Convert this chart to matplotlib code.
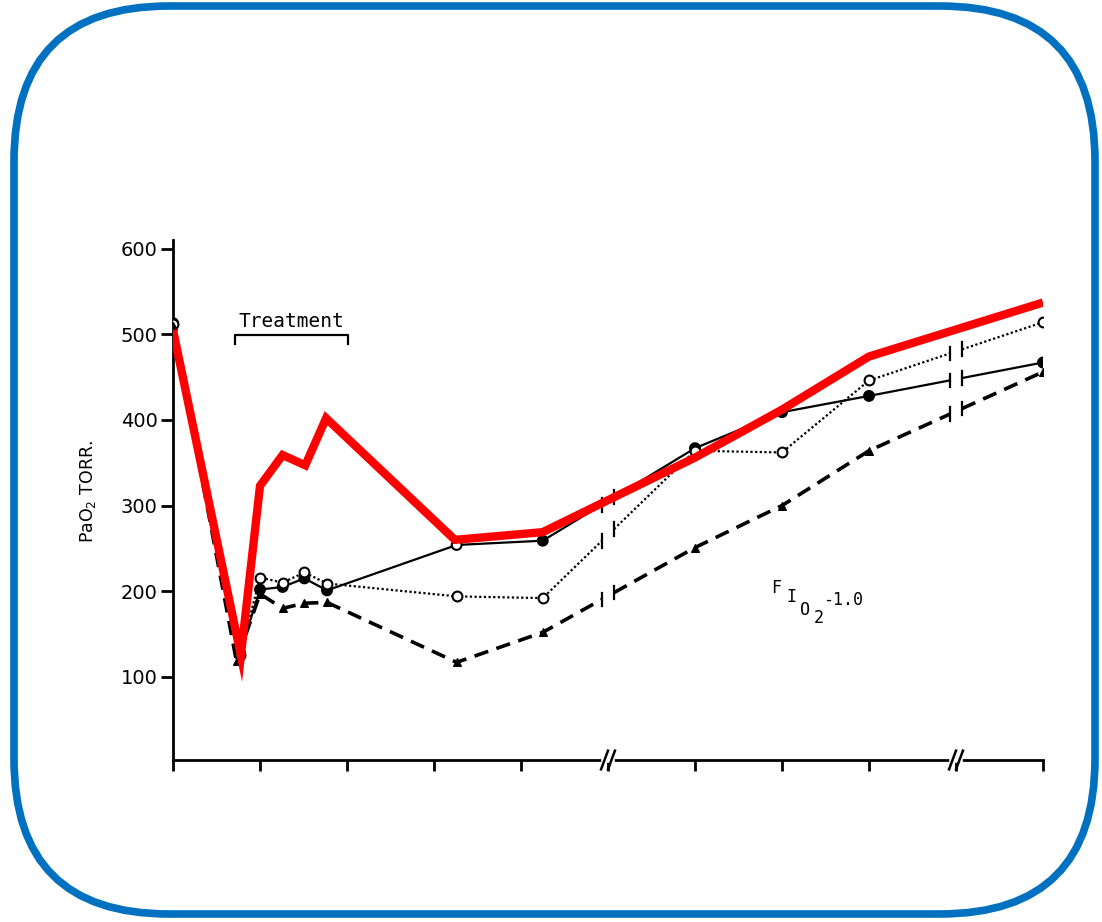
import numpy as np
import matplotlib.pyplot as plt
from matplotlib.patches import FancyBboxPatch
from matplotlib.transforms import IdentityTransform, blended_transform_factory

# sampling positions in tick units (axis breaks at 5 and 9)
x_solid = [0, 0.77, 1, 1.26, 1.51, 1.77, 3.26, 4.25, 6, 7, 8, 10]
pao2_solid = [513, 128, 202, 205, 215, 201, 254, 259, 367, 409, 428, 467]

x_dotted = [0, 0.77, 1, 1.26, 1.51, 1.77, 3.26, 4.25, 6, 7, 8, 10]
pao2_dotted = [512, 125, 216, 210, 222, 209, 194, 192, 364, 362, 446, 514]

x_dashed = [0, 0.73, 1, 1.26, 1.51, 1.77, 3.26, 4.25, 6, 7, 8, 10]
pao2_dashed = [510, 118, 197, 180, 186, 187, 117, 152, 251, 300, 364, 456]

x_red = [0, 0.78, 1, 1.26, 1.52, 1.76, 3.24, 4.25, 6, 7, 8, 10]
pao2_red = [505, 125, 323, 359, 347, 402, 260, 269, 356, 412, 474, 537]

yticks = [100, 200, 300, 400, 500, 600]
xticks = list(range(11))
breaks = [5, 9]
gap = 0.07

fig = plt.figure(figsize=(11.02, 9.22), dpi=100)
ax = fig.add_axes([173 / 1102, 1 - 760 / 922, 870 / 1102, 520 / 922])


def draw_broken(xs, ys, **kw):
    # line with a small gap and end caps at every axis break
    xs = np.asarray(xs, float)
    ys = np.asarray(ys, float)
    edges = [xs[0]]
    for b in breaks:
        edges += [b - gap, b + gap]
    edges.append(xs[-1])
    for lo, hi in zip(edges[::2], edges[1::2]):
        inside = (xs > lo) & (xs < hi)
        sx = np.concatenate([[lo], xs[inside], [hi]])
        sy = np.interp(sx, xs, ys)
        ax.plot(sx, sy, color='black', **kw)
    for b in breaks:
        for e in (b - gap, b + gap):
            yy = np.interp(e, xs, ys)
            ax.plot([e, e], [yy - 8, yy + 8], color='black', lw=1.6)


draw_broken(x_solid, pao2_solid, lw=1.6, ls='-')
draw_broken(x_dotted, pao2_dotted, lw=1.6, ls=(0, (1, 1.1)))
draw_broken(x_dashed, pao2_dashed, lw=2.6, ls=(0, (4, 2.4)))

solid_faces = ['black'] * len(x_solid)
solid_faces[6] = 'white'
ax.scatter(x_solid, pao2_solid, s=50, c=solid_faces, edgecolors='black',
           linewidths=1.5, zorder=3)
ax.scatter(x_dotted, pao2_dotted, s=50, c='white', edgecolors='black',
           linewidths=1.5, zorder=3)
ax.scatter(x_dashed, pao2_dashed, s=30, c='black', marker='^', zorder=3)

ax.plot(x_red, pao2_red, color='#ff0000', lw=6, solid_joinstyle='miter',
        solid_capstyle='butt', zorder=4)

ax.set_xlim(0, 10)
ax.set_ylim(3, 610)
ax.set_yticks(yticks)
ax.set_xticks(xticks)
ax.set_xticklabels([])
ax.tick_params(axis='y', direction='out', length=9, width=2, labelsize=14, pad=2)
ax.tick_params(axis='x', direction='out', length=8, width=2)
for s in ('top', 'right'):
    ax.spines[s].set_visible(False)
for s in ('left', 'bottom'):
    ax.spines[s].set_linewidth(2)

# axis break marks on the time axis
brk = blended_transform_factory(ax.transData, ax.transAxes)
for b in breaks:
    ax.plot([b - 0.05, b + 0.05], [0, 0], color='white', lw=4,
            transform=brk, clip_on=False, zorder=5)
    for off in (-0.04, 0.04):
        ax.plot([b + off - 0.04, b + off + 0.04], [-0.018, 0.018],
                color='black', lw=1.8, transform=brk, clip_on=False, zorder=6)

# treatment bracket
ax.text(1.36, 508, 'Treatment', family='DejaVu Sans Mono', fontsize=14,
        ha='center', va='baseline')
ax.plot([0.71, 0.71, 2.01, 2.01], [489, 499, 499, 489], color='black', lw=1.6)

# FIO2 = 1.0 label, typed in staggered pieces
fio2_pieces = [('F', 0, 0), ('I', 11, -6.5), ('O', 21, -16), ('2', 31, -22),
               ('-1.0', 38, -9)]
for txt, dx, dy in fio2_pieces:
    ax.annotate(txt, xy=(6.87, 204), xytext=(dx, dy), textcoords='offset points',
                family='DejaVu Sans Mono', fontsize=12, ha='left', va='center')

fig.text(88 / 1102, 1 - 492 / 922, r'PaO$_2$ TORR.', rotation=90,
         fontsize=12.5, ha='center', va='center')

border = FancyBboxPatch((14, 8), 1081, 908,
                        boxstyle='round,pad=0,rounding_size=155',
                        transform=IdentityTransform(), fill=False,
                        edgecolor='#0070c0', lw=5.5)
fig.patches.append(border)

fig.savefig('out.png', dpi=100)
